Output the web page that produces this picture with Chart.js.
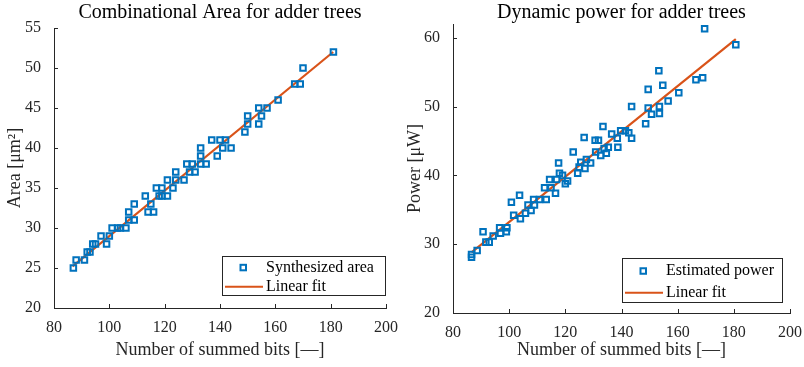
<!DOCTYPE html>
<html>
<head>
<meta charset="utf-8">
<script src="https://cdn.jsdelivr.net/npm/chart.js@4/dist/chart.umd.min.js"></script>
<style>
  body { margin: 0; background: #fff; }
  .panel { position: absolute; top: 0; }
</style>
</head>
<body>
<div class="panel" style="left:0"><canvas id="areaChart" width="400" height="367"></canvas></div>
<div class="panel" style="left:400px"><canvas id="powerChart" width="404" height="367"></canvas></div>
<script>
// left panel: synthesized area
const areaBits = [87, 88, 91, 92, 93, 94, 95, 97, 99, 100, 101, 103, 104, 106, 107, 107, 109, 109, 113, 114,
  115, 116, 117, 118, 119, 119, 121, 121, 123, 124, 124, 127, 128, 129, 130, 131, 133, 133, 133, 135,
  137, 139, 140, 141, 142, 144, 149, 150, 150, 154, 154, 155, 157, 161, 167, 169, 170, 181];
const areaValues = [25, 26, 26, 27, 27, 28, 28, 29, 28, 29, 30, 30, 30, 30, 32, 31, 33, 31, 34, 32,
  33, 32, 35, 34, 35, 34, 36, 34, 35, 37, 36, 36, 38, 37, 38, 37, 38, 40, 39, 38,
  41, 39, 41, 40, 41, 40, 42, 44, 43, 45, 43, 44, 45, 46, 48, 48, 50, 52];
const areaFitBits = [86.7, 180.9];
const areaFitValues = [25.2, 52.0];

// right panel: estimated power
const powerBits = [86.6, 86.6, 88.6, 90.7, 91.7, 92.9, 94.3, 96.6, 96.9, 99.0,
  99.2, 100.8, 101.6, 103.7, 104.0, 105.8, 106.7, 107.8, 108.7, 109.0,
  110.8, 112.6, 113.2, 114.4, 114.9, 116.5, 116.9, 117.6, 117.9, 119.0,
  120.0, 120.8, 122.8, 124.4, 124.9, 125.5, 126.7, 127.0, 127.5, 129.0,
  130.6, 130.8, 131.8, 132.6, 133.4, 133.8, 134.6, 135.3, 136.5, 138.5,
  138.7, 139.7, 141.4, 142.6, 143.6, 143.6, 148.6, 149.5, 149.5, 150.7,
  153.3, 153.5, 153.5, 154.7, 156.6, 160.4, 166.5, 168.9, 169.6, 180.7];
const powerValues = [28.1, 28.5, 29.1, 31.8, 30.3, 30.3, 31.2, 32.4, 31.6, 31.8,
  32.4, 36.1, 34.2, 37.1, 33.7, 34.5, 35.7, 34.9, 36.5, 35.7,
  36.5, 38.2, 36.5, 39.4, 38.2, 37.4, 39.4, 41.8, 40.3, 40.0,
  38.8, 39.2, 43.4, 40.3, 41.2, 41.9, 45.5, 41.0, 42.3, 41.8,
  45.1, 43.4, 45.1, 42.9, 47.1, 43.9, 43.2, 44.1, 46.0, 45.4,
  44.1, 46.5, 46.5, 46.2, 50.0, 45.4, 47.5, 52.5, 49.8, 48.9,
  55.2, 49.0, 50.0, 53.1, 50.8, 52.0, 53.9, 54.2, 61.3, 59.0];
const powerFitBits = [86.6, 180.7];
const powerFitValues = [28.8, 59.8];

const xTicks = [80, 100, 120, 140, 160, 180, 200];
const areaTicks = [20, 25, 30, 35, 40, 45, 50, 55];
const powerTicks = [20, 30, 40, 50, 60];

const BLUE = '#0072BD';
const ORANGE = '#D95319';
const AXIS = '#262626';
const FONT = 'Liberation Serif';

function toPoints(xs, ys) {
  return xs.map((x, i) => ({ x: x, y: ys[i] }));
}

// MATLAB style ticks pointing into the axes
const inwardTicks = {
  id: 'inwardTicks',
  afterDraw(chart) {
    const { ctx, chartArea, scales } = chart;
    ctx.save();
    ctx.strokeStyle = AXIS;
    ctx.lineWidth = 1;
    ctx.beginPath();
    for (const t of scales.x.ticks) {
      const px = Math.round(scales.x.getPixelForValue(t.value)) + 0.5;
      ctx.moveTo(px, chartArea.bottom);
      ctx.lineTo(px, chartArea.bottom - 4);
    }
    for (const t of scales.y.ticks) {
      const py = Math.round(scales.y.getPixelForValue(t.value)) + 0.5;
      ctx.moveTo(chartArea.left, py);
      ctx.lineTo(chartArea.left + 4, py);
    }
    ctx.stroke();
    ctx.restore();
  }
};

// legend box placed inside the axes, lower right
const boxLegend = {
  id: 'boxLegend',
  afterDraw(chart, args, opts) {
    const { ctx } = chart;
    const [scatter, fit] = chart.data.datasets;
    ctx.save();
    ctx.fillStyle = '#fff';
    ctx.fillRect(opts.x, opts.y, opts.w, opts.h);
    ctx.strokeStyle = AXIS;
    ctx.lineWidth = 1;
    ctx.strokeRect(opts.x + 0.5, opts.y + 0.5, opts.w, opts.h);

    const row1 = opts.y + opts.h * 0.29;
    const row2 = opts.y + opts.h * 0.79;
    // marker
    ctx.strokeStyle = BLUE;
    ctx.lineWidth = 2;
    ctx.strokeRect(opts.x + 18.5, row1 - 2.5, 5.5, 5.5);
    // line
    ctx.strokeStyle = ORANGE;
    ctx.lineWidth = 2;
    ctx.beginPath();
    ctx.moveTo(opts.x + 3, row2);
    ctx.lineTo(opts.x + 41, row2);
    ctx.stroke();

    ctx.fillStyle = '#000';
    ctx.font = '16px "' + FONT + '"';
    ctx.textBaseline = 'middle';
    ctx.fillText(scatter.label, opts.x + 44, row1);
    ctx.fillText(fit.label, opts.x + 44, row2);
    ctx.restore();
  }
};

function makeChart(canvasId, cfg) {
  const ctx = document.getElementById(canvasId).getContext('2d');
  return new Chart(ctx, {
    type: 'scatter',
    data: {
      datasets: [{
        label: cfg.scatterLabel,
        data: toPoints(cfg.bits, cfg.values),
        pointStyle: 'rect',
        pointRadius: 3.9,
        pointBorderWidth: 2,
        pointBorderColor: BLUE,
        pointBackgroundColor: 'rgba(0,0,0,0)',
        showLine: false
      }, {
        label: 'Linear fit',
        data: toPoints(cfg.fitBits, cfg.fitValues),
        showLine: true,
        borderColor: ORANGE,
        borderWidth: 2.2,
        pointRadius: 0
      }]
    },
    options: {
      responsive: false,
      animation: false,
      layout: { padding: { left: 0, right: 12, top: 0, bottom: 0 } },
      plugins: {
        legend: { display: false },
        tooltip: { enabled: false },
        title: {
          display: true,
          text: cfg.title,
          fullSize: false,
          color: '#000',
          font: { family: FONT, size: 20, weight: 'normal', lineHeight: 1 },
          padding: { top: 3, bottom: cfg.titleGap }
        },
        boxLegend: cfg.legendBox
      },
      scales: {
        x: {
          type: 'linear',
          min: 80,
          max: 200,
          afterBuildTicks: (scale) => { scale.ticks = xTicks.map(v => ({ value: v })); },
          afterFit: (scale) => { scale.height = cfg.xAxisHeight; },
          grid: { display: false },
          border: { display: true, color: AXIS, width: 1 },
          ticks: { color: AXIS, font: { family: FONT, size: 16 }, padding: 2, maxRotation: 0 },
          title: {
            display: true,
            text: 'Number of summed bits [—]',
            color: AXIS,
            font: { family: FONT, size: 18 },
            padding: { top: 2, bottom: 6 }
          }
        },
        y: {
          type: 'linear',
          min: cfg.yMin,
          max: cfg.yMax,
          afterBuildTicks: (scale) => { scale.ticks = cfg.yTicks.map(v => ({ value: v })); },
          afterFit: (scale) => { scale.width = cfg.yAxisWidth; },
          grid: { display: false },
          border: { display: true, color: AXIS, width: 1 },
          ticks: { color: AXIS, font: { family: FONT, size: 16 }, padding: 5 },
          title: {
            display: true,
            text: cfg.yTitle,
            color: AXIS,
            font: { family: FONT, size: 18 },
            padding: { top: 4, bottom: 0 }
          }
        }
      }
    },
    plugins: [inwardTicks, boxLegend]
  });
}

makeChart('areaChart', {
  title: 'Combinational Area for adder trees',
  titleGap: 5,
  scatterLabel: 'Synthesized area',
  bits: areaBits,
  values: areaValues,
  fitBits: areaFitBits,
  fitValues: areaFitValues,
  yMin: 20,
  yMax: 55,
  yTicks: areaTicks,
  yTitle: 'Area [μm²]',
  yAxisWidth: 54,
  xAxisHeight: 59,
  legendBox: { x: 222, y: 256, w: 163, h: 39 }
});

makeChart('powerChart', {
  title: 'Dynamic power for adder trees',
  titleGap: 1,
  scatterLabel: 'Estimated power',
  bits: powerBits,
  values: powerValues,
  fitBits: powerFitBits,
  fitValues: powerFitValues,
  yMin: 20,
  yMax: 62,
  yTicks: powerTicks,
  yTitle: 'Power [μW]',
  yAxisWidth: 53,
  xAxisHeight: 54,
  legendBox: { x: 222, y: 258, w: 160, h: 44 }
});
</script>
</body>
</html>
